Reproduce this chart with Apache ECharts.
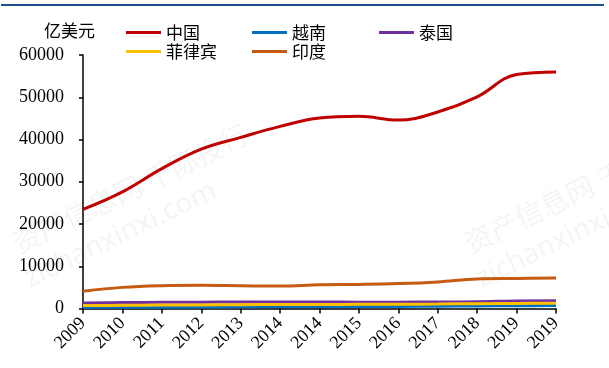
<!DOCTYPE html>
<html>
<head>
<meta charset="utf-8">
<script src="https://cdn.jsdelivr.net/npm/echarts@6/dist/echarts.min.js"></script>
<style>html,body{margin:0;padding:0;background:#fff}#c{width:609px;height:368px}</style>
</head>
<body>
<div id="c"></div>
<script>
const categories = ['2009','2010','2011','2012','2013','2014','2014','2015','2016','2017','2018','2019','2019'];
const china = [23450, 27600, 33100, 37700, 40500, 43100, 45100, 45500, 44600, 46500, 50100, 55400, 56000];
const vietnam = [250, 300, 300, 350, 400, 450, 450, 500, 500, 550, 600, 650, 700];
const thailand = [1300, 1400, 1450, 1500, 1550, 1550, 1550, 1500, 1500, 1550, 1600, 1800, 1850];
const philippines = [700, 750, 800, 850, 900, 950, 950, 1000, 1000, 1050, 1150, 1200, 1250];
const india = [4100, 5000, 5400, 5500, 5400, 5300, 5600, 5700, 5900, 6300, 7000, 7100, 7200];
const yTicks = [0, 10000, 20000, 30000, 40000, 50000, 60000];
const unitLabel = '亿美元';

const seriesDefs = [
  {name: '中国', data: china, color: '#c00000'},
  {name: '越南', data: vietnam, color: '#0070c0'},
  {name: '泰国', data: thailand, color: '#7030a0'},
  {name: '菲律宾', data: philippines, color: '#ffc000'},
  {name: '印度', data: india, color: '#c55a11'}
];
const legendPos = {'中国': [126, 24], '越南': [252, 24], '泰国': [379, 24], '菲律宾': [126, 43], '印度': [252, 43]};

const chart = echarts.init(document.getElementById('c'), null, {renderer: 'canvas'});
const cjk = '"Noto Sans CJK SC", "Noto Sans", sans-serif';
const serif = '"Liberation Serif", "DejaVu Serif", serif';

chart.setOption({
  backgroundColor: '#fff',
  animation: false,
  grid: {left: 83, right: 53, top: 55, bottom: 59.5, containLabel: false},
  legend: seriesDefs.map(s => ({
    data: [s.name],
    left: legendPos[s.name][0],
    top: legendPos[s.name][1],
    itemWidth: 35,
    itemHeight: 3,
    itemGap: 0,
    icon: 'rect',
    padding: 0,
    textStyle: {fontFamily: cjk, fontSize: 17, color: '#000'}
  })),
  xAxis: {
    type: 'category',
    data: categories,
    boundaryGap: false,
    axisLine: {lineStyle: {color: '#000', width: 1.5}},
    axisTick: {show: true, alignWithLabel: true, length: 5, lineStyle: {color: '#000', width: 1.5}},
    axisLabel: {rotate: 45, interval: 0, margin: 12, fontFamily: serif, fontSize: 18, color: '#000'},
    splitLine: {show: false}
  },
  yAxis: {
    type: 'value',
    min: yTicks[0],
    max: yTicks[yTicks.length - 1],
    interval: yTicks[1] - yTicks[0],
    axisLine: {show: true, lineStyle: {color: '#000', width: 1.5}},
    axisTick: {show: true, length: 4, lineStyle: {color: '#000', width: 1.5}},
    axisLabel: {margin: 19, fontFamily: serif, fontSize: 18, color: '#000', formatter: v => String(v)},
    splitLine: {show: false}
  },
  graphic: [
    {type: 'line', shape: {x1: 1, y1: 5, x2: 604, y2: 5}, style: {stroke: '#1f4e8c', lineWidth: 2}, z: 10},
    {type: 'text', left: 44, top: 22, style: {text: unitLabel, font: '17px ' + cjk, fill: '#000'}},
    {type: 'text', x: 8, y: 232, rotation: 0.45, style: {text: '资产信息网 千际投行', font: '28px ' + cjk, fill: 'rgba(0,0,0,0.045)'}, z: -1},
    {type: 'text', x: 20, y: 268, rotation: 0.45, style: {text: 'zichanxinxi.com', font: '28px "Noto Sans", sans-serif', fill: 'rgba(0,0,0,0.045)'}, z: -1},
    {type: 'text', x: 460, y: 232, rotation: 0.45, style: {text: '资产信息网 千际投行', font: '28px ' + cjk, fill: 'rgba(0,0,0,0.045)'}, z: -1},
    {type: 'text', x: 472, y: 268, rotation: 0.45, style: {text: 'zichanxinxi.com', font: '28px "Noto Sans", sans-serif', fill: 'rgba(0,0,0,0.045)'}, z: -1}
  ],
  series: seriesDefs.map(s => ({
    name: s.name,
    type: 'line',
    data: s.data,
    smooth: 0.4,
    showSymbol: false,
    symbol: 'none',
    lineStyle: {color: s.color, width: 3},
    itemStyle: {color: s.color}
  }))
});
</script>
</body>
</html>
